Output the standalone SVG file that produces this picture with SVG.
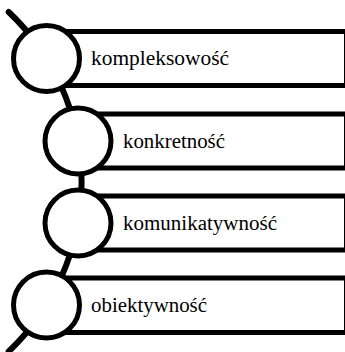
<svg xmlns="http://www.w3.org/2000/svg" width="345" height="352" viewBox="0 0 345 352">
<style>
.box{fill:#fff;stroke:#000;stroke-width:5}
.dot{fill:#fff;stroke:#000;stroke-width:5}
.arc{fill:none;stroke:#000;stroke-width:6;stroke-linecap:round}
.lbl{font-family:"Liberation Serif","Times New Roman",serif;font-size:20px;fill:#000}
</style>
<rect width="345" height="352" fill="#fff"/>
<g id="connectors">
<path class="arc" d="M 8.7 12 A 234.1 234.1 0 0 1 8.7 351.5"/>
</g>
<g id="n1">
<rect class="box" x="46.5" y="31.5" width="300" height="54"/>
<circle class="dot" cx="46.5" cy="58.5" r="33"/>
<text class="lbl" x="91" y="65" textLength="138" lengthAdjust="spacingAndGlyphs">kompleksowość</text>
</g>
<g id="n2">
<rect class="box" x="78" y="114" width="268.5" height="54"/>
<circle class="dot" cx="78" cy="141" r="33"/>
<text class="lbl" x="123" y="148" textLength="102" lengthAdjust="spacingAndGlyphs">konkretność</text>
</g>
<g id="n3">
<rect class="box" x="78" y="196" width="268.5" height="54"/>
<circle class="dot" cx="78" cy="223" r="33"/>
<text class="lbl" x="123" y="230" textLength="154" lengthAdjust="spacingAndGlyphs">komunikatywność</text>
</g>
<g id="n4">
<rect class="box" x="46.5" y="278" width="300" height="54.5"/>
<circle class="dot" cx="46.5" cy="305" r="33"/>
<text class="lbl" x="91" y="312" textLength="116" lengthAdjust="spacingAndGlyphs">obiektywność</text>
</g>
</svg>
